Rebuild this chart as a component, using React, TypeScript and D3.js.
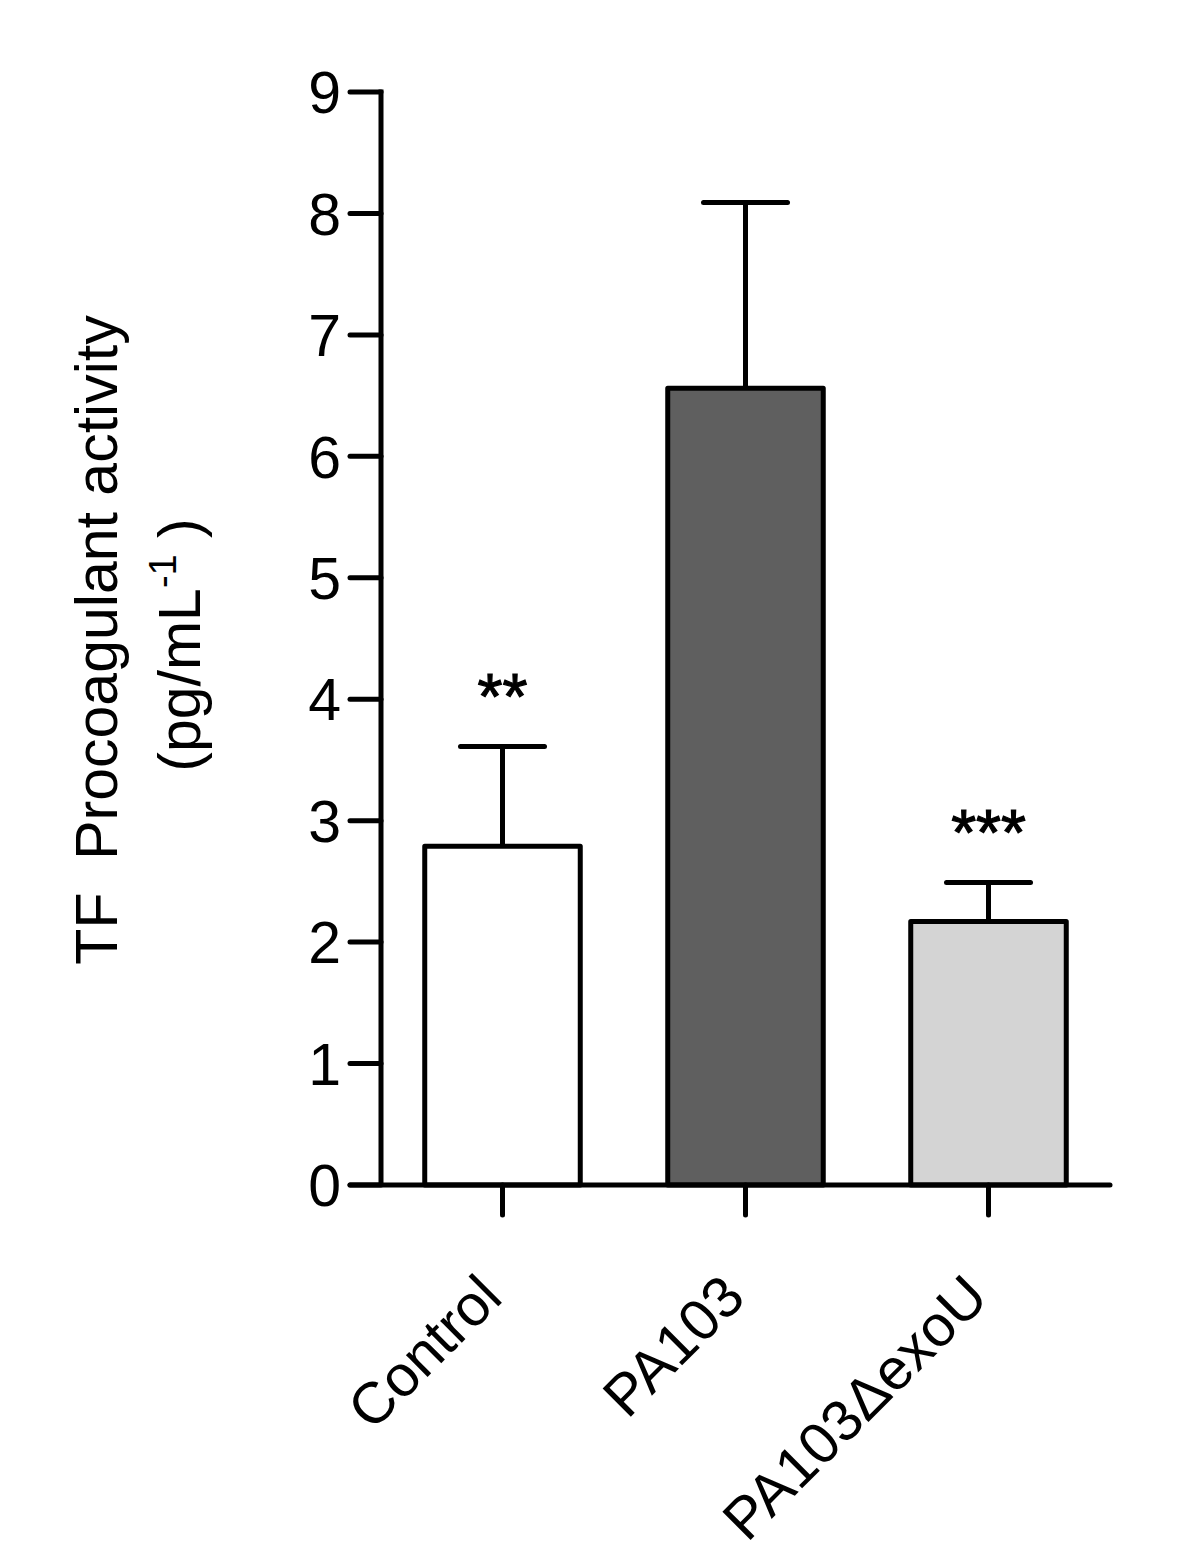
import React from 'react';
import * as d3 from 'd3';

// data
const categories = ['Control', 'PA103', 'PA103\u0394exoU'];
const means = [2.79, 6.56, 2.17];
const sem = [0.82, 1.53, 0.32];
const fills = ['#ffffff', '#5f5f5f', '#d4d4d4'];
const stars = ['**', '', '***'];
const yTicks = [0, 1, 2, 3, 4, 5, 6, 7, 8, 9];

const FONT = '"Liberation Sans", Arial, Helvetica, sans-serif';

export default function App() {
  const width = 1200;
  const height = 1562;
  const left = 381;
  const right = 1110;
  const bottom = 1185;
  const top = 92;
  const sw = 5;

  const x = d3.scaleBand<string>()
    .domain(categories)
    .range([left, right])
    .paddingInner(0.36)
    .paddingOuter(0.18);

  const y = d3.scaleLinear()
    .domain([0, 9])
    .range([bottom, top]);

  const capHalf = 42;

  return (
    <svg
      width={width}
      height={height}
      style={{ position: 'absolute', left: 0, top: 0, background: '#fff' }}
      fontFamily={FONT}
    >
      <rect x={0} y={0} width={width} height={height} fill="#fff" />

      {/* y axis title */}
      <text
        transform="translate(117,640) rotate(-90)"
        textAnchor="middle"
        fontSize={59}
        style={{ whiteSpace: 'pre' }}
      >
        {'TF  Procoagulant activity'}
      </text>
      <text
        transform="translate(200,645) rotate(-90)"
        textAnchor="middle"
        fontSize={59}
        style={{ whiteSpace: 'pre' }}
      >
        (pg/mL
        <tspan dy={-24} fontSize={38}>-1</tspan>
        <tspan dy={24}>{' )'}</tspan>
      </text>

      {/* bars + error bars */}
      {categories.map((c, i) => {
        const x0 = x(c) as number;
        const cx = x0 + x.bandwidth() / 2;
        const yTop = y(means[i]);
        const yErr = y(means[i] + sem[i]);
        return (
          <g key={c}>
            <line x1={cx} x2={cx} y1={yTop} y2={yErr} stroke="#000" strokeWidth={sw} />
            <line x1={cx - capHalf} x2={cx + capHalf} y1={yErr} y2={yErr} stroke="#000" strokeWidth={sw} strokeLinecap="round" />
            <rect
              x={x0}
              y={yTop}
              width={x.bandwidth()}
              height={bottom - yTop}
              fill={fills[i]}
              stroke="#000"
              strokeWidth={sw}
              strokeLinejoin="round"
            />
            {stars[i] && (
              <text
                x={cx}
                y={yErr - 28}
                textAnchor="middle"
                fontSize={64}
                stroke="#000"
                strokeWidth={1.2}
              >
                {stars[i]}
              </text>
            )}
          </g>
        );
      })}

      {/* y axis */}
      <line x1={left} x2={left} y1={top - 2.5} y2={bottom} stroke="#000" strokeWidth={sw} />
      {yTicks.map(t => (
        <g key={t}>
          <line x1={350} x2={left} y1={y(t)} y2={y(t)} stroke="#000" strokeWidth={sw} strokeLinecap="round" />
          <text x={341} y={y(t)} dy="0.36em" textAnchor="end" fontSize={59}>
            {t}
          </text>
        </g>
      ))}

      {/* x axis */}
      <line x1={left - 31} x2={right} y1={bottom} y2={bottom} stroke="#000" strokeWidth={sw} strokeLinecap="round" />
      {categories.map(c => {
        const cx = (x(c) as number) + x.bandwidth() / 2;
        return (
          <g key={c}>
            <line x1={cx} x2={cx} y1={bottom} y2={bottom + 30} stroke="#000" strokeWidth={sw} strokeLinecap="round" />
            <text
              transform={`translate(${cx + 2},${bottom + 115}) rotate(-45)`}
              textAnchor="end"
              fontSize={58}
            >
              {c}
            </text>
          </g>
        );
      })}
    </svg>
  );
}
